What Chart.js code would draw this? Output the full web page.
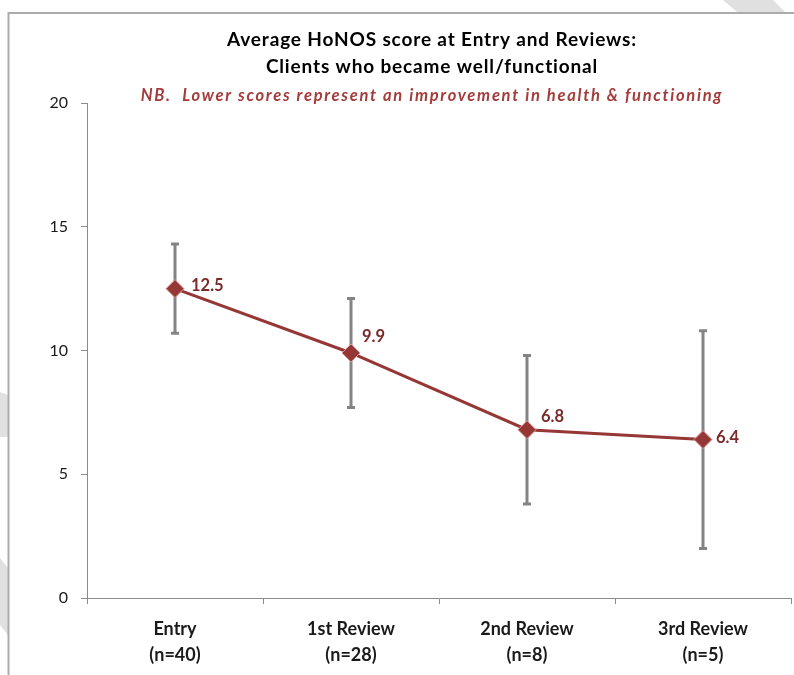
<!DOCTYPE html>
<html>
<head>
<meta charset="utf-8">
<script src="https://cdn.jsdelivr.net/npm/chart.js@4.4.1/dist/chart.umd.min.js"></script>
<style>
  html, body { margin: 0; padding: 0; background: #ffffff; }
  #wrap { width: 794px; height: 675px; position: relative; }
</style>
</head>
<body>
<div id="wrap"><canvas id="chart" width="794" height="675"></canvas></div>
<script>
// Review stages with group sizes
const categories = [
  ['Entry', '(n=40)'],
  ['1st Review', '(n=28)'],
  ['2nd Review', '(n=8)'],
  ['3rd Review', '(n=5)']
];
// Average HoNOS score at each stage
const meanScores = [12.5, 9.9, 6.8, 6.4];
// Half-length of each error bar (score units)
const errorMargins = [1.8, 2.2, 3.0, 4.4];
// Value axis ticks
const yTicks = [0, 5, 10, 15, 20];

const titleLines = ['Average HoNOS score at Entry and Reviews:', 'Clients who became well/functional'];
const noteLine = 'NB.  Lower scores represent an improvement in health & functioning';

// Where each value label sits relative to its marker
const labelPlacement = [
  { dx: 16, dy: -3 },
  { dx: 11, dy: -16 },
  { dx: 14, dy: -13 },
  { dx: 13, dy: -2 }
];

const FONT = 'Lato, "Open Sans", sans-serif';
const lineRed = '#953735';
const labelRed = '#7a2b29';

// Page frame and faint background stripes
const framePlugin = {
  id: 'frame',
  beforeDraw(chart) {
    const ctx = chart.ctx;
    ctx.save();
    ctx.fillStyle = '#ffffff';
    ctx.fillRect(0, 0, chart.width, chart.height);
    ctx.fillStyle = '#e0e0e0';
    ctx.beginPath();
    ctx.moveTo(723, 0); ctx.lineTo(773, 0); ctx.lineTo(785, 12); ctx.lineTo(737, 12);
    ctx.closePath(); ctx.fill();
    ctx.beginPath();
    ctx.moveTo(0, 392); ctx.lineTo(8, 395); ctx.lineTo(8, 437); ctx.lineTo(0, 437);
    ctx.closePath(); ctx.fill();
    ctx.beginPath();
    ctx.moveTo(0, 558); ctx.lineTo(8, 568); ctx.lineTo(8, 635); ctx.lineTo(0, 625);
    ctx.closePath(); ctx.fill();
    ctx.strokeStyle = '#ababab';
    ctx.lineWidth = 2;
    ctx.beginPath();
    ctx.moveTo(8.5, 675); ctx.lineTo(8.5, 13); ctx.lineTo(794, 13);
    ctx.stroke();
    ctx.restore();
  }
};

// Title block
const titlePlugin = {
  id: 'titleBlock',
  afterDraw(chart) {
    const ctx = chart.ctx;
    const cx = 432;
    ctx.save();
    ctx.textAlign = 'center';
    ctx.textBaseline = 'middle';
    ctx.fillStyle = '#000000';
    ctx.font = 'bold 19px ' + FONT;
    ctx.letterSpacing = '0.85px';
    ctx.fillText(titleLines[0], cx, 40);
    ctx.fillText(titleLines[1], cx, 67);
    ctx.fillStyle = '#a33c3a';
    ctx.font = 'italic bold 16.5px ' + FONT;
    ctx.letterSpacing = '1.7px';
    ctx.fillText(noteLine, cx, 96);
    ctx.restore();
  }
};

// Vertical error bars with caps, drawn under the line
const errorBarPlugin = {
  id: 'errorBars',
  beforeDatasetsDraw(chart) {
    const ctx = chart.ctx;
    const xs = chart.scales.x, ys = chart.scales.y;
    ctx.save();
    ctx.strokeStyle = '#848484';
    ctx.lineWidth = 3;
    meanScores.forEach((v, i) => {
      const x = xs.getPixelForValue(i);
      const yTop = ys.getPixelForValue(v + errorMargins[i]);
      const yBot = ys.getPixelForValue(v - errorMargins[i]);
      ctx.beginPath();
      ctx.moveTo(x, yTop); ctx.lineTo(x, yBot);
      ctx.moveTo(x - 4, yTop); ctx.lineTo(x + 4, yTop);
      ctx.moveTo(x - 4, yBot); ctx.lineTo(x + 4, yBot);
      ctx.stroke();
    });
    ctx.restore();
  }
};

// Value labels next to markers
const valueLabelPlugin = {
  id: 'valueLabels',
  afterDatasetsDraw(chart) {
    const ctx = chart.ctx;
    const meta = chart.getDatasetMeta(0);
    ctx.save();
    ctx.font = 'bold 16.5px ' + FONT;
    ctx.fillStyle = labelRed;
    ctx.textAlign = 'left';
    ctx.textBaseline = 'middle';
    meta.data.forEach((pt, i) => {
      const p = labelPlacement[i];
      ctx.fillText(meanScores[i].toFixed(1), pt.x + p.dx, pt.y + p.dy);
    });
    ctx.restore();
  }
};

new Chart(document.getElementById('chart'), {
  type: 'line',
  data: {
    labels: categories,
    datasets: [{
      data: meanScores,
      borderColor: lineRed,
      borderWidth: 3,
      pointStyle: 'rectRot',
      pointRadius: 9,
      pointHoverRadius: 9,
      pointBackgroundColor: lineRed,
      pointBorderColor: '#d99a98',
      pointBorderWidth: 1,
      tension: 0,
      clip: false
    }]
  },
  options: {
    responsive: false,
    animation: false,
    events: [],
    layout: { autoPadding: false, padding: { top: 103, right: 3, bottom: 0, left: 0 } },
    plugins: {
      legend: { display: false },
      title: { display: false },
      tooltip: { enabled: false }
    },
    scales: {
      x: {
        type: 'category',
        offset: true,
        grid: {
          offset: true,
          drawOnChartArea: false,
          drawTicks: true,
          tickLength: 6,
          color: '#8c8c8c'
        },
        border: { color: '#8c8c8c', width: 1 },
        ticks: {
          color: '#1a1a1a',
          font: { family: FONT, size: 18, weight: 'bold', lineHeight: 1.44 },
          padding: 12,
          maxRotation: 0,
          autoSkip: false
        },
        afterFit(scale) { scale.height = 77; }
      },
      y: {
        min: 0,
        max: 20,
        afterBuildTicks(scale) { scale.ticks = yTicks.map(v => ({ value: v })); },
        grid: {
          drawOnChartArea: false,
          drawTicks: true,
          tickLength: 6,
          color: '#8c8c8c'
        },
        border: { color: '#8c8c8c', width: 1 },
        ticks: {
          color: '#1a1a1a',
          font: { family: FONT, size: 16 },
          padding: 13
        },
        afterFit(scale) { scale.width = 87; }
      }
    }
  },
  plugins: [framePlugin, errorBarPlugin, valueLabelPlugin, titlePlugin]
});
</script>
</body>
</html>
